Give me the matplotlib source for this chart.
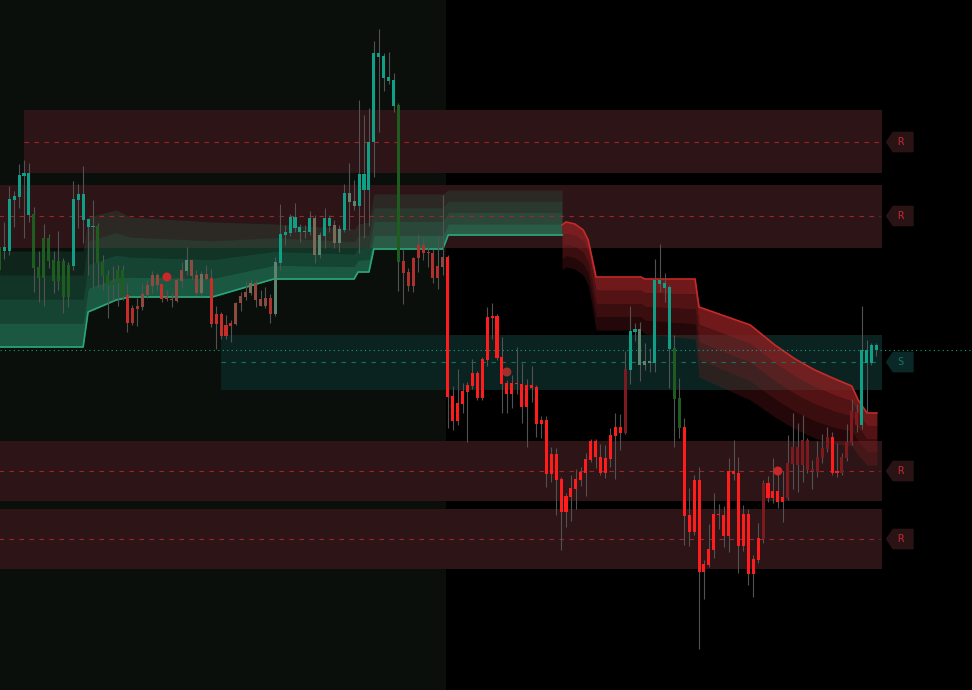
import numpy as np
import matplotlib
matplotlib.use("Agg")
import matplotlib.pyplot as plt
from matplotlib.patches import Polygon

# ---- candles (price units, index = bar number) ----
candle_open = [
    443, 439, 439, 490, 493, 514, 517, 476, 423, 412,
    452, 430, 409, 429, 393, 424, 490, 496, 471, 463,
    464, 428, 415, 405, 407, 420, 395, 367, 384, 383,
    395, 404, 415, 406, 393, 391, 389, 409, 419, 430,
    415, 397, 416, 412, 366, 376, 354, 364, 366, 387,
    393, 397, 407, 391, 384, 392, 376, 427, 455, 457,
    473, 463, 458, 458, 472, 435, 454, 472, 465, 447,
    460, 497, 489, 484, 516, 500, 548, 637, 634, 613,
    610, 585, 429, 418, 404, 432, 445, 437, 437, 412,
    423, 433, 294, 269, 286, 298, 304, 317, 292, 330,
    372, 374, 333, 307, 296, 307, 306, 283, 305, 303,
    266, 270, 216, 236, 211, 178, 193, 201, 210, 217,
    230, 249, 233, 217, 231, 254, 263, 257, 320, 358,
    361, 325, 329, 327, 410, 407, 403, 342, 292, 263,
    175, 158, 210, 118, 125, 140, 176, 175, 154, 219,
    217, 144, 176, 116, 130, 151, 207, 192, 199, 188,
    192, 226, 243, 225, 250, 221, 218, 232, 241, 253,
    217, 217, 232, 247, 278, 265, 340, 327, 345]
candle_high = [
    450, 468, 504, 499, 526, 530, 527, 483, 439, 466,
    456, 439, 459, 432, 428, 509, 506, 524, 471, 490,
    467, 435, 420, 424, 425, 425, 406, 385, 392, 407,
    410, 419, 417, 406, 400, 397, 412, 428, 443, 430,
    420, 419, 425, 421, 384, 378, 375, 370, 388, 398,
    409, 411, 410, 400, 403, 396, 433, 486, 465, 476,
    487, 466, 465, 479, 475, 458, 482, 475, 470, 465,
    506, 527, 510, 590, 575, 582, 649, 661, 637, 638,
    617, 587, 441, 422, 433, 456, 452, 443, 441, 454,
    495, 435, 304, 321, 307, 308, 331, 319, 333, 383,
    387, 376, 353, 310, 315, 343, 327, 311, 324, 305,
    274, 274, 243, 242, 213, 197, 215, 221, 223, 237,
    251, 251, 246, 245, 262, 277, 276, 339, 384, 367,
    368, 347, 342, 431, 446, 417, 405, 355, 312, 272,
    202, 215, 223, 130, 166, 197, 186, 184, 232, 250,
    233, 185, 181, 135, 167, 210, 214, 232, 219, 219,
    255, 277, 267, 275, 252, 230, 249, 256, 263, 258,
    247, 237, 266, 291, 286, 384, 350, 347, 347]
candle_low = [
    415, 431, 435, 463, 482, 452, 468, 398, 388, 384,
    422, 397, 400, 377, 383, 420, 462, 447, 415, 402,
    403, 400, 372, 390, 384, 390, 358, 365, 364, 380,
    392, 397, 400, 388, 389, 383, 388, 402, 415, 410,
    395, 394, 410, 363, 341, 351, 351, 348, 365, 379,
    390, 395, 383, 384, 382, 367, 374, 420, 445, 454,
    458, 448, 452, 455, 427, 432, 442, 458, 442, 438,
    458, 460, 480, 437, 452, 464, 513, 558, 599, 606,
    578, 399, 386, 399, 398, 418, 430, 423, 407, 401,
    415, 262, 260, 265, 277, 248, 301, 290, 290, 324,
    351, 330, 277, 277, 282, 296, 267, 243, 288, 253,
    252, 203, 208, 175, 140, 163, 169, 181, 204, 194,
    228, 222, 215, 212, 223, 211, 240, 256, 306, 349,
    309, 320, 318, 318, 398, 388, 302, 243, 252, 145,
    144, 155, 41, 91, 123, 132, 161, 143, 138, 210,
    117, 139, 105, 93, 127, 147, 188, 187, 182, 168,
    190, 201, 198, 208, 217, 201, 213, 227, 238, 215,
    213, 215, 229, 245, 258, 261, 277, 325, 334]
candle_close = [
    420, 443, 491, 494, 515, 517, 475, 422, 412, 452,
    429, 409, 429, 393, 425, 491, 496, 470, 463, 464,
    427, 414, 405, 408, 420, 394, 367, 382, 381, 396,
    405, 415, 405, 391, 391, 390, 410, 420, 430, 414,
    397, 416, 411, 366, 376, 354, 365, 367, 387, 394,
    398, 407, 390, 384, 392, 376, 428, 456, 458, 473,
    462, 458, 459, 472, 435, 455, 472, 464, 447, 461,
    497, 488, 484, 516, 500, 548, 637, 633, 612, 609,
    584, 428, 417, 404, 432, 445, 437, 438, 412, 424,
    433, 293, 269, 287, 299, 305, 317, 292, 331, 373,
    374, 332, 306, 296, 307, 306, 283, 305, 302, 266,
    270, 216, 236, 210, 178, 194, 202, 211, 218, 231,
    249, 233, 217, 232, 255, 263, 257, 321, 359, 361,
    325, 329, 327, 410, 406, 402, 341, 291, 262, 174,
    158, 210, 118, 126, 141, 176, 175, 154, 219, 216,
    144, 176, 116, 131, 152, 207, 192, 199, 188, 193,
    227, 243, 225, 250, 220, 219, 233, 242, 253, 217,
    219, 233, 248, 279, 265, 340, 327, 345, 340]
# trend colour code of every bar
candle_kind = list(
    "GTTTTTTGGG" "GGGGGTTTTT" "GGGGGGrMMB" "BBBrrBBBAB" "BKBrrrrrBB"
    "BKBBBMATTT" "TTTTKATTKA" "TAATTTTTTT" "TGMMMMMMMM" "BRRRRRRRRR"
    "RRRRRRRRRR" "RRRRRRRRRR" "RRRRRRRDTT" "AAATTTTGGR" "RRRRRRRRRR"
    "RRRRRDRRRR" "DDDDDDDDDR" "RDDDDTTTT")

kind_color = {'T': '#0f9f86', 'G': '#1f5c1f', 'r': '#c92d2a', 'M': '#b0302b',
              'B': '#8c4b3e', 'A': '#5c8470', 'K': '#786c58', 'R': '#ff1c1c',
              'D': '#7d1a1f'}

# ---- trailing clouds (bar index, trail level, cloud width) ----
green_x = [-1, 17.0, 18.0, 23.7, 26.5, 43.2, 55.7, 72.0, 72.8, 75.0, 76.0, 90.0, 91.1, 114.2]
green_level = [343, 343, 378, 390, 393, 393, 411, 411, 418, 418, 441, 441, 455, 455]
green_width = [96, 96, 95, 90, 80, 75, 55, 50, 48, 50, 55, 55, 45, 45]

red_x = [114.2, 115.0, 116.8, 118.5, 119.5, 120.3, 121.1, 130.2, 131.0, 141.2,
         142.0, 152.4, 157.4, 161.5, 165.5, 169.6, 173.0, 174.3, 176.1, 178.1]
red_level = [465, 468, 466, 460, 450, 432, 413, 413, 411, 411,
             383, 365, 345, 331, 320, 311, 304, 290, 277, 277]
red_width = [45, 45, 45, 45, 45, 48, 53, 53, 55, 60,
             70, 75, 72, 70, 68, 65, 60, 55, 52, 52]

# ---- support / resistance zones ----
zone_kind = ['R', 'R', 'S', 'R', 'R']
zone_low = [517, 442, 300, 189, 121]
zone_high = [580, 505, 355, 249, 181]
zone_mid = [548, 474, 328, 219, 151]
zone_start = [5, -2, 45, -2, -2]
zone_end = 179.1

signal_idx = [34, 103, 158]
signal_price = [413, 318, 219]
session_split = 90.65

fig = plt.figure(figsize=(9.72, 6.9), dpi=100, facecolor='black')
ax = fig.add_axes([0, 0, 1, 1])
ax.set_xlim(0.128, 197.4)
ax.set_ylim(0, 690)
ax.axis('off')

# previous session shading
ax.axvspan(-5, session_split, color='#0a0f0b', lw=0, zorder=0)

# zones
for kind, lo, hi, mid, start in zip(zone_kind, zone_low, zone_high, zone_mid, zone_start):
    face = '#2d1416' if kind == 'R' else '#0a2320'
    ax.fill_between([start, zone_end], lo, hi, color=face, lw=0, zorder=1)

# clouds
gx = np.array(green_x)
gl = np.array(green_level)
gw = np.array(green_width)
g_alpha = [0.55, 0.4, 0.28, 0.17]
for k in range(4):
    ax.fill_between(gx, gl + gw * k / 4, gl + gw * (k + 1) / 4,
                    color='#28966f', alpha=g_alpha[k], lw=0, zorder=2)
ax.plot(gx, gl, color='#2aa77a', lw=1.2, zorder=3)

rx = np.array(red_x)
rl = np.array(red_level)
rw = np.array(red_width)
r_alpha = [0.8, 0.6, 0.42, 0.26]
for k in range(4):
    ax.fill_between(rx, rl - rw * (k + 1) / 4, rl - rw * k / 4,
                    color='#8c2023', alpha=r_alpha[k], lw=0, zorder=2)
ax.plot(rx, rl, color='#c82a2a', lw=1.2, zorder=3)

# zone mid lines
for kind, mid, start in zip(zone_kind, zone_mid, zone_start):
    lc = '#a0242a' if kind == 'R' else '#16705c'
    ax.hlines(mid, start, zone_end - 0.4, colors=lc, lw=0.8,
              linestyles=(0, (4, 5)), zorder=3.2)

# last price line
ax.axhline(candle_close[-1], color='#18a088', lw=0.8, ls=(0, (1, 3)), zorder=3.4)

# candles
xs = np.arange(len(candle_open))
o = np.array(candle_open)
c = np.array(candle_close)
colors = [kind_color[k] for k in candle_kind]
ax.vlines(xs, candle_low, candle_high, colors='#525252', lw=0.8, zorder=4)
ax.bar(xs, np.maximum(np.abs(c - o), 1.2), bottom=np.minimum(o, c),
       width=0.62, color=colors, lw=0, zorder=5)

# signals
ax.scatter(signal_idx, signal_price, s=42, color=['#c8282a', '#a0302e', '#c8282a'],
           lw=0, zorder=6)

# zone tags
for kind, mid in zip(zone_kind, zone_mid):
    face = '#2a1315' if kind == 'R' else '#0a2826'
    tc = '#c02a34' if kind == 'R' else '#1b7563'
    tag = Polygon([(180.1, mid), (181.4, mid + 9.5), (185.4, mid + 9.5),
                   (185.4, mid - 9.5), (181.4, mid - 9.5)],
                  closed=True, facecolor=face, edgecolor=face, lw=1.2,
                  joinstyle='round', zorder=7)
    ax.add_patch(tag)
    ax.text(182.95, mid, kind, color=tc, fontsize=7.5, family='DejaVu Sans Mono',
            ha='center', va='center', zorder=8)

fig.savefig('out.png', dpi=100, facecolor='black')
